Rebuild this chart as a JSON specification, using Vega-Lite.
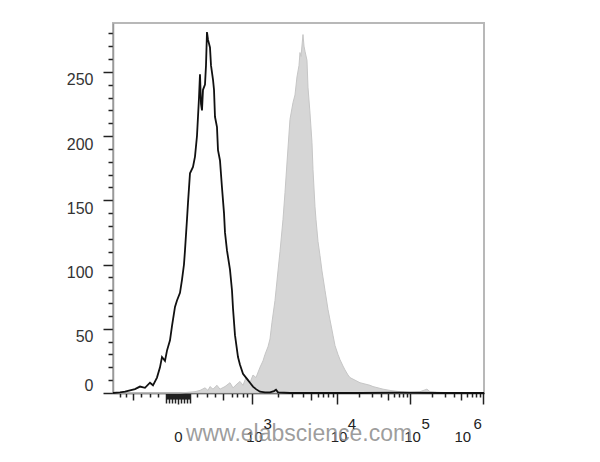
{
  "$schema": "https://vega.github.io/schema/vega-lite/v6.json",
  "width": 371,
  "height": 370,
  "autosize": {"type": "none"},
  "padding": {"left": 113, "top": 23, "right": 116, "bottom": 69},
  "background": "white",
  "config": {
    "font": "Liberation Sans",
    "view": {"stroke": "#b8b8b8", "strokeWidth": 2}
  },
  "datasets": {
    "control": [
      {"ch": 0, "count": 0}, {"ch": 19.3, "count": 0.5}, {"ch": 33.1, "count": 1}, {"ch": 46.9, "count": 2},
      {"ch": 60.7, "count": 3}, {"ch": 74.5, "count": 5}, {"ch": 88.3, "count": 4}, {"ch": 102.1, "count": 8},
      {"ch": 110.4, "count": 6}, {"ch": 121.4, "count": 12}, {"ch": 129.7, "count": 20}, {"ch": 135.2, "count": 28},
      {"ch": 143.5, "count": 25}, {"ch": 149.0, "count": 33}, {"ch": 157.3, "count": 41}, {"ch": 162.8, "count": 52},
      {"ch": 171.1, "count": 67}, {"ch": 176.6, "count": 72}, {"ch": 184.9, "count": 78}, {"ch": 190.4, "count": 88},
      {"ch": 195.9, "count": 100}, {"ch": 198.7, "count": 111}, {"ch": 204.2, "count": 135}, {"ch": 207.0, "count": 148},
      {"ch": 212.5, "count": 171}, {"ch": 220.8, "count": 176}, {"ch": 226.3, "count": 184}, {"ch": 231.8, "count": 200},
      {"ch": 237.4, "count": 230}, {"ch": 240.1, "count": 248}, {"ch": 242.9, "count": 225}, {"ch": 245.6, "count": 220},
      {"ch": 248.4, "count": 236}, {"ch": 253.9, "count": 240}, {"ch": 256.7, "count": 255}, {"ch": 259.4, "count": 281},
      {"ch": 262.2, "count": 275}, {"ch": 267.7, "count": 269}, {"ch": 270.5, "count": 255}, {"ch": 276.0, "count": 244},
      {"ch": 278.8, "count": 236}, {"ch": 281.5, "count": 215}, {"ch": 287.0, "count": 207}, {"ch": 289.8, "count": 189},
      {"ch": 295.3, "count": 181}, {"ch": 300.8, "count": 160}, {"ch": 306.4, "count": 140}, {"ch": 309.1, "count": 125},
      {"ch": 314.6, "count": 111}, {"ch": 322.9, "count": 96}, {"ch": 328.4, "count": 80}, {"ch": 331.2, "count": 66},
      {"ch": 336.7, "count": 45}, {"ch": 345.0, "count": 28}, {"ch": 350.5, "count": 22}, {"ch": 358.8, "count": 15},
      {"ch": 367.1, "count": 12}, {"ch": 372.6, "count": 10}, {"ch": 378.1, "count": 8}, {"ch": 386.4, "count": 5},
      {"ch": 394.7, "count": 3}, {"ch": 405.7, "count": 1}, {"ch": 419.5, "count": 0.5}, {"ch": 433.3, "count": 0.5},
      {"ch": 444.4, "count": 1.5}, {"ch": 449.9, "count": 2.5}, {"ch": 455.4, "count": 0.5}, {"ch": 488.5, "count": 0},
      {"ch": 571.3, "count": 0}, {"ch": 681.7, "count": 0}, {"ch": 792.1, "count": 0.3}, {"ch": 902.5, "count": 0},
      {"ch": 1024, "count": 0}
    ],
    "stained": [
      {"ch": 0, "count": 0}, {"ch": 102.1, "count": 0}, {"ch": 184.9, "count": 0}, {"ch": 226.3, "count": 1},
      {"ch": 240.1, "count": 2}, {"ch": 253.9, "count": 4}, {"ch": 262.2, "count": 2}, {"ch": 267.7, "count": 5},
      {"ch": 276.0, "count": 3}, {"ch": 287.0, "count": 6}, {"ch": 295.3, "count": 3}, {"ch": 309.1, "count": 5},
      {"ch": 322.9, "count": 8}, {"ch": 331.2, "count": 4}, {"ch": 342.2, "count": 7}, {"ch": 350.5, "count": 9},
      {"ch": 358.8, "count": 6}, {"ch": 367.1, "count": 12}, {"ch": 378.1, "count": 8}, {"ch": 386.4, "count": 14},
      {"ch": 394.7, "count": 12}, {"ch": 405.7, "count": 20}, {"ch": 414.0, "count": 25}, {"ch": 419.5, "count": 30},
      {"ch": 427.8, "count": 36}, {"ch": 433.3, "count": 42}, {"ch": 438.8, "count": 55}, {"ch": 447.1, "count": 72},
      {"ch": 455.4, "count": 95}, {"ch": 460.9, "count": 110}, {"ch": 469.2, "count": 135}, {"ch": 474.7, "count": 156},
      {"ch": 480.2, "count": 179}, {"ch": 488.5, "count": 213}, {"ch": 496.8, "count": 226}, {"ch": 502.3, "count": 232},
      {"ch": 507.8, "count": 246}, {"ch": 513.4, "count": 255}, {"ch": 516.1, "count": 265}, {"ch": 518.9, "count": 262},
      {"ch": 524.4, "count": 279}, {"ch": 527.2, "count": 270}, {"ch": 529.9, "count": 266}, {"ch": 535.4, "count": 259},
      {"ch": 538.2, "count": 238}, {"ch": 543.7, "count": 218}, {"ch": 549.2, "count": 195}, {"ch": 552.0, "count": 174},
      {"ch": 557.5, "count": 145}, {"ch": 560.3, "count": 135}, {"ch": 565.8, "count": 118}, {"ch": 571.3, "count": 107},
      {"ch": 576.8, "count": 95}, {"ch": 585.1, "count": 80}, {"ch": 593.4, "count": 65}, {"ch": 598.9, "count": 57},
      {"ch": 607.2, "count": 45}, {"ch": 612.7, "count": 37}, {"ch": 621.0, "count": 30}, {"ch": 626.5, "count": 26},
      {"ch": 634.8, "count": 21}, {"ch": 640.3, "count": 18}, {"ch": 648.6, "count": 14}, {"ch": 654.1, "count": 12},
      {"ch": 667.9, "count": 10}, {"ch": 681.7, "count": 8}, {"ch": 695.5, "count": 7}, {"ch": 709.3, "count": 6},
      {"ch": 717.6, "count": 5}, {"ch": 731.4, "count": 4}, {"ch": 745.2, "count": 3}, {"ch": 764.5, "count": 2},
      {"ch": 792.1, "count": 1}, {"ch": 819.7, "count": 0.5}, {"ch": 847.3, "count": 1}, {"ch": 866.6, "count": 3},
      {"ch": 874.9, "count": 1}, {"ch": 902.5, "count": 0.5}, {"ch": 957.7, "count": 0}, {"ch": 1024, "count": 0}
    ]
  },
  "encoding": {
    "y": {
      "field": "count",
      "type": "quantitative",
      "scale": {"domain": [0, 288], "nice": false},
      "axis": {
        "grid": false,
        "title": null,
        "domainColor": "#999",
        "domainWidth": 1.5,
        "tickColor": "#222",
        "tickWidth": 1.5,
        "values": [0, 10, 20, 30, 40, 50, 60, 70, 80, 90, 100, 110, 120, 130, 140, 150, 160, 170, 180, 190, 200, 210, 220, 230, 240, 250, 260, 270, 280],
        "tickSize": {"condition": {"test": "datum.value % 50 == 0", "value": 10}, "value": 5},
        "labelExpr": "datum.value % 50 == 0 ? datum.label : ''",
        "labelOverlap": false,
        "labelFontSize": 16,
        "labelColor": "#333",
        "labelPadding": 10,
        "labelBaseline": {"condition": {"test": "datum.value == 0", "value": "bottom"}, "value": "top"}
      }
    }
  },
  "layer": [
    {
      "data": {"name": "stained"},
      "mark": {"type": "area", "color": "#d6d6d6", "stroke": "#c6c6c6", "strokeWidth": 1, "interpolate": "linear"},
      "encoding": {
        "x": {
          "field": "ch",
          "type": "quantitative",
          "scale": {"domain": [0, 1024], "nice": false, "zero": false},
          "axis": {
            "orient": "bottom",
            "grid": false,
            "domainColor": "#222",
            "domainWidth": 1.5,
            "tickColor": "#222",
            "tickWidth": 1.5,
            "values": [19.3, 35.9, 55.2, 77.3, 102.1, 124.2, 146.3, 149.0, 151.8, 154.5, 157.3, 160.0, 162.8, 165.6, 168.4, 171.1, 173.9, 176.6, 179.4, 182.2, 184.9, 187.7, 190.4, 193.2, 195.9, 198.7, 201.4, 204.2, 207, 209.7, 212.5, 231.8, 259.4, 281.5, 303.6, 328.4, 342.2, 358.8, 369.8, 384, 454.1, 495.2, 524.3, 546.9, 565.3, 580.9, 594.4, 606.3, 617, 678.1, 713.9, 739.2, 758.9, 775.0, 788.6, 800.3, 810.7, 820, 880.8, 916.4, 941.6, 961.2, 977.2, 990.7, 1002.4, 1012.7, 1022],
            "tickSize": {
              "condition": [
                {"test": "datum.value == 179.4 || datum.value == 384 || datum.value == 617 || datum.value == 820 || datum.value == 1022", "value": 11},
                {"test": "datum.value == 55.2 || datum.value == 303.6 || datum.value == 546.9 || datum.value == 758.9 || datum.value == 961.2", "value": 7},
                {"test": "datum.value > 145 && datum.value < 213 && round((datum.value - 146.3) / 2.76) % 3 == 0", "value": 10},
                {"test": "datum.value > 145 && datum.value < 213", "value": 6}
              ],
              "value": 4
            },
            "labelExpr": "datum.value == 179.4 ? '0' : (datum.value == 384 || datum.value == 617 || datum.value == 820 || datum.value == 1022) ? '10' : ''",
            "labelOverlap": false,
            "labelFlush": false,
            "labelAlign": "center",
            "labelOffset": {"condition": [{"test": "datum.value == 1022", "value": -21}, {"test": "datum.value == 179.4", "value": 0}], "value": 2},
            "labelFontSize": 15,
            "labelColor": "#222",
            "labelPadding": 25,
            "title": "www.elabscience.com",
            "titleFontSize": 23,
            "titleFontWeight": "normal",
            "titleColor": "#8c8c8c",
            "titleOpacity": 0.85,
            "titleBaseline": "alphabetic",
            "titleY": 47
          }
        }
      }
    },
    {
      "data": {"name": "control"},
      "mark": {"type": "line", "color": "#111", "strokeWidth": 1.8, "interpolate": "linear"},
      "encoding": {
        "x": {
          "field": "ch",
          "type": "quantitative",
          "scale": {"domain": [0, 1024], "nice": false, "zero": false},
          "axis": {
            "orient": "bottom",
            "grid": false,
            "domain": false,
            "ticks": false,
            "tickSize": 0,
            "values": [384, 617, 820, 1022],
            "labelExpr": "datum.value == 384 ? '3' : datum.value == 617 ? '4' : datum.value == 820 ? '5' : '6'",
            "labelOverlap": false,
            "labelFlush": false,
            "labelAlign": "center",
            "labelOffset": {"condition": {"test": "datum.value == 1022", "value": -6}, "value": 15},
            "labelFontSize": 15,
            "labelColor": "#222",
            "labelPadding": 23,
            "title": null
          }
        }
      }
    }
  ],
  "resolve": {"scale": {"x": "independent"}, "axis": {"x": "independent"}}
}
